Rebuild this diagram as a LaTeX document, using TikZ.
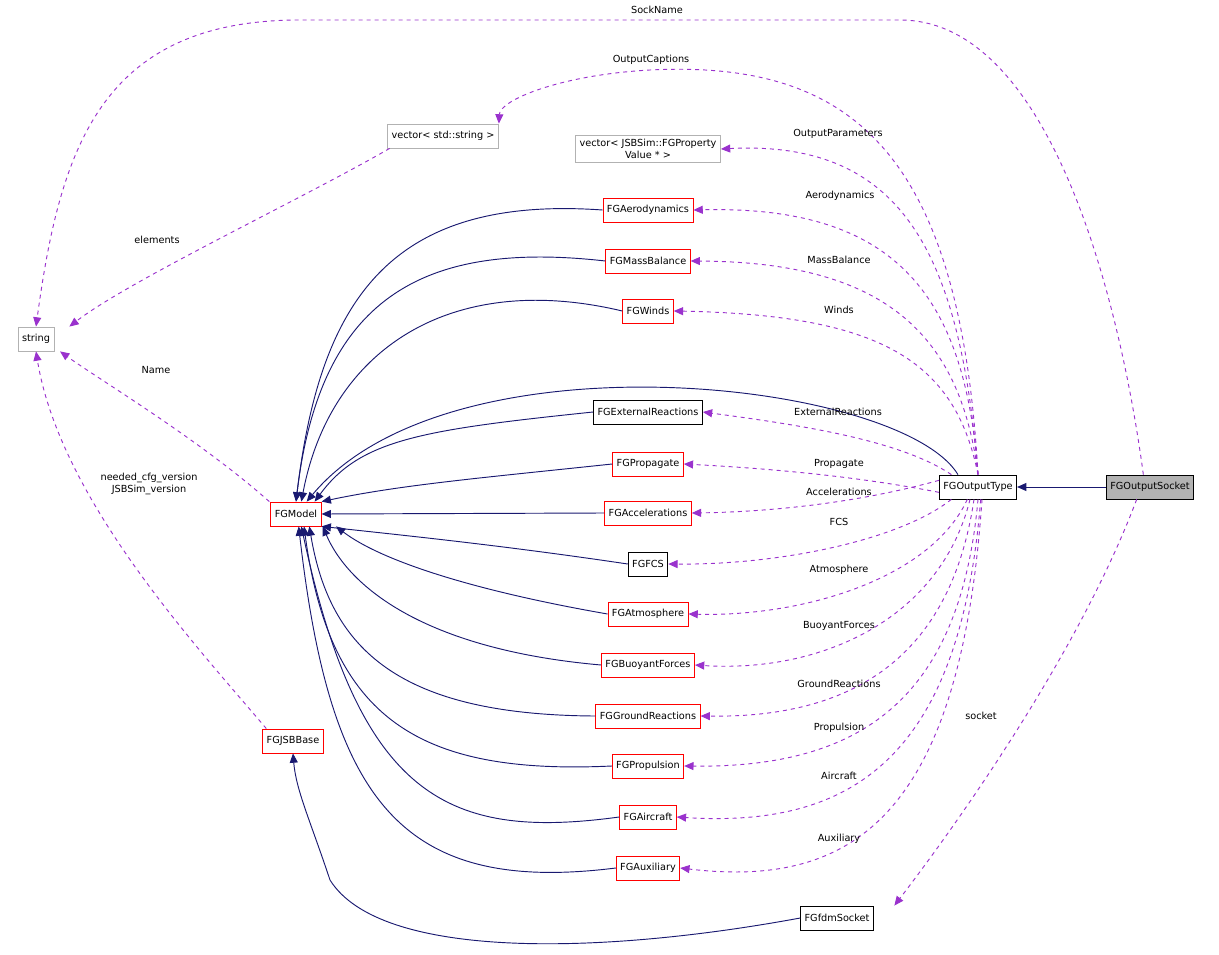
\documentclass[tikz,border=0pt]{standalone}
\usepackage{fontspec}
\setmainfont{DejaVu Sans}
\usetikzlibrary{arrows.meta}
\definecolor{mblue}{RGB}{25,25,112}
\definecolor{mviol}{RGB}{154,50,205}
\begin{document}
\begin{tikzpicture}[x=0.75pt,y=-0.75pt,
 box/.style={draw,rectangle,minimum height=18pt,inner sep=3pt,font=\fontsize{7.3}{8.5}\selectfont,line width=0.6pt},
 rbox/.style={box,draw=red},
 gbox/.style={box,draw=gray!60},
 kbox/.style={box,draw=black},
 lab/.style={font=\fontsize{7.3}{8.5}\selectfont,align=center},
 inh/.style={draw=mblue,line width=0.7pt,{Triangle[length=7pt,width=6pt]}-},
 mem/.style={draw=mviol,line width=0.7pt,dashed,-{Triangle[length=7pt,width=6pt]}}]
\useasboundingbox (0,0) rectangle (1219,955);
\node[gbox] (str) at (36,339) {string};
\node[gbox] (vs) at (443,136) {vector< std::string >};
\node[gbox,align=center] (vp) at (648,149) {vector< JSBSim::FGProperty\\Value * >};
\node[rbox] (aero) at (648,210) {FGAerodynamics};
\node[rbox] (mass) at (648,261) {FGMassBalance};
\node[rbox] (winds) at (648,311) {FGWinds};
\node[kbox] (ext) at (648,412) {FGExternalReactions};
\node[rbox] (prop) at (648,464) {FGPropagate};
\node[rbox] (acc) at (648,513) {FGAccelerations};
\node[kbox] (fcs) at (648,564) {FGFCS};
\node[rbox] (atm) at (648,614) {FGAtmosphere};
\node[rbox] (buo) at (648,665) {FGBuoyantForces};
\node[rbox] (gr) at (648,716) {FGGroundReactions};
\node[rbox] (pro) at (648,766) {FGPropulsion};
\node[rbox] (air) at (648,817) {FGAircraft};
\node[rbox] (aux) at (648,868) {FGAuxiliary};
\node[kbox] (fdm) at (837,918) {FGfdmSocket};
\node[rbox] (mod) at (296,514) {FGModel};
\node[rbox] (jsb) at (293,741) {FGJSBBase};
\node[kbox] (ot) at (978,487) {FGOutputType};
\node[kbox,fill=gray!60] (os) at (1150,487) {FGOutputSocket};
% inheritance
\draw[inh] (ot.east) -- (os.west);
\draw[inh] (mod.north) .. controls (320,300) and (390,195) .. (aero.west);
\draw[inh] (mod.north) .. controls (320,300) and (420,240) .. (mass.west);
\draw[inh] ([xshift=4]mod.north) .. controls (330,350) and (450,270) .. (winds.west);
\draw[inh] ([xshift=8]mod.north) .. controls (450,330) and (900,380) .. ([xshift=-15]ot.north);
\draw[inh] ([xshift=14]mod.north) .. controls (360,440) and (420,430) .. (ext.west);
\draw[inh] (mod.north east) .. controls (400,485) and (480,478) .. (prop.west);
\draw[inh] (mod.east) -- (acc.west);
\draw[inh] (mod.south east) .. controls (400,535) and (500,545) .. (fcs.west);
\draw[inh] ([xshift=30]mod.south) .. controls (380,560) and (470,590) .. (atm.west);
\draw[inh] ([xshift=20]mod.south) .. controls (350,590) and (430,650) .. (buo.west);
\draw[inh] ([xshift=10]mod.south) .. controls (330,650) and (400,715) .. (gr.west);
\draw[inh] ([xshift=6]mod.south) .. controls (330,720) and (420,775) .. (pro.west);
\draw[inh] ([xshift=4]mod.south) .. controls (360,800) and (450,840) .. (air.west);
\draw[inh] ([xshift=2]mod.south) .. controls (330,800) and (400,895) .. (aux.west);
\draw[inh] (jsb.south) .. controls (296,790) and (310,820) .. (330,880) .. controls (380,960) and (600,955) .. (fdm.west);
% members
\draw[mem] (ot.north) .. controls (960,150) and (850,60) .. (650,70) .. controls (560,75) and (500,100) .. (vs.north east);
\draw[mem] (ot.north) .. controls (960,250) and (900,140) .. (vp.east);
\draw[mem] (ot.north) .. controls (965,300) and (900,205) .. (aero.east);
\draw[mem] (ot.north) .. controls (960,330) and (880,262) .. (mass.east);
\draw[mem] (ot.north) .. controls (955,360) and (880,315) .. (winds.east);
\draw[mem] ([xshift=-20]ot.north) .. controls (900,440) and (800,425) .. (ext.east);
\draw[mem] ([yshift=-4]ot.west) .. controls (850,475) and (760,468) .. (prop.east);
\draw[mem] ([yshift=5]ot.west) .. controls (850,505) and (760,512) .. (acc.east);
\draw[mem] ([xshift=-20]ot.south) .. controls (900,540) and (780,565) .. (fcs.east);
\draw[mem] ([xshift=-8]ot.south) .. controls (930,580) and (800,617) .. (atm.east);
\draw[mem] ([xshift=-6]ot.south) .. controls (940,620) and (820,673) .. (buo.east);
\draw[mem] ([xshift=-3]ot.south) .. controls (950,660) and (850,718) .. (gr.east);
\draw[mem] (ot.south) .. controls (960,700) and (860,768) .. (pro.east);
\draw[mem] ([xshift=2]ot.south) .. controls (960,760) and (850,828) .. (air.east);
\draw[mem] ([xshift=3]ot.south) .. controls (960,820) and (850,888) .. (aux.east);
\draw[mem] ([xshift=-10]os.south) .. controls (1080,650) and (960,820) .. ([xshift=43]fdm.north);
\draw[mem] ([xshift=-5]os.north) .. controls (1120,300) and (1050,20) .. (900,20) -- (300,20) .. controls (100,20) and (60,150) .. (str.north);
\draw[mem] ([xshift=-40]vs.south) .. controls (300,200) and (130,280) .. ([xshift=25]str.north);
\draw[mem] ([xshift=-20]mod.north) .. controls (200,440) and (100,380) .. ([xshift=18]str.south);
\draw[mem] ([xshift=-20]jsb.north) .. controls (200,650) and (60,500) .. (str.south);
% labels
\node[lab] (l1) at (657,10) {SockName};
\node[lab] (l2) at (651,60) {OutputCaptions};
\node[lab] (l3) at (838,134) {OutputParameters};
\node[lab] (l4) at (840,196) {Aerodynamics};
\node[lab] (l5) at (839,260) {MassBalance};
\node[lab] (l6) at (839,310) {Winds};
\node[lab] (l7) at (838,412) {ExternalReactions};
\node[lab] (l8) at (839,464) {Propagate};
\node[lab] (l9) at (839,492) {Accelerations};
\node[lab] (l10) at (839,522) {FCS};
\node[lab] (l11) at (839,570) {Atmosphere};
\node[lab] (l12) at (839,626) {BuoyantForces};
\node[lab] (l13) at (839,684) {GroundReactions};
\node[lab] (l14) at (839,728) {Propulsion};
\node[lab] (l15) at (839,776) {Aircraft};
\node[lab] (l16) at (839,839) {Auxiliary};
\node[lab] (l17) at (981,716) {socket};
\node[lab] (l18) at (157,240) {elements};
\node[lab] (l19) at (156,370) {Name};
\node[lab] (l20) at (149,484) {needed\_cfg\_version\\JSBSim\_version};
\end{tikzpicture}
\end{document}
